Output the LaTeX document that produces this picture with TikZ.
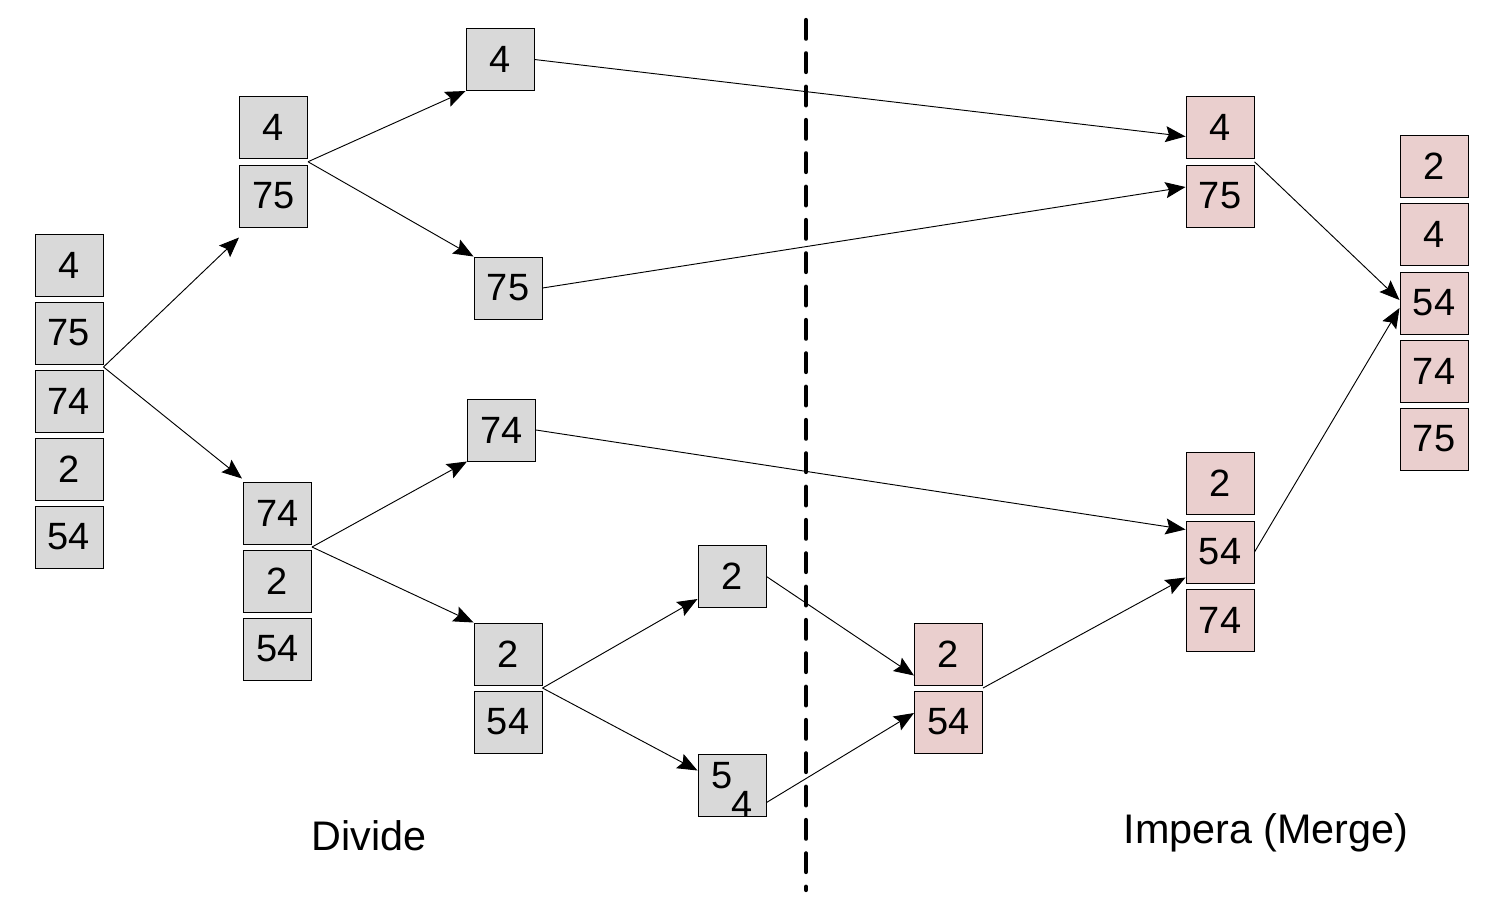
\documentclass[tikz,border=0pt]{standalone}
\usepackage{fontspec}
\setmainfont{Liberation Sans}
\usetikzlibrary{arrows.meta,calc}
\definecolor{boxgray}{RGB}{217,217,217}
\definecolor{boxpink}{RGB}{234,207,206}
\begin{document}
\begin{tikzpicture}[x=0.75pt,y=-0.75pt,
  cell/.style={draw=black, line width=0.75pt, minimum width=51pt, minimum height=46.5pt, inner sep=0pt, font=\fontsize{28.5}{31}\selectfont},
  gcell/.style={cell, fill=boxgray},
  pcell/.style={cell, fill=boxpink},
  arr/.style={line width=0.7pt, -{Stealth[length=15pt,width=12pt,inset=2.5pt]}},
  lbl/.style={font=\fontsize{31}{35}\selectfont},
  divider/.style={line width=3.2pt, line cap=round, dash pattern=on 14pt off 11pt}]
\useasboundingbox (0,0) rectangle (1498,922);
% left column
\node[gcell] (L4)  at (69,265) {4};
\node[gcell] (L75) at (69,333) {75};
\node[gcell] (L74) at (69,401) {74};
\node[gcell] (L2)  at (69,469) {2};
\node[gcell] (L54) at (69,537) {54};
% second column
\node[gcell] (T4)  at (273.5,127.5) {4};
\node[gcell] (T75) at (273.5,196) {75};
\node[gcell] (B74) at (277.5,513) {74};
\node[gcell] (B2)  at (277.5,581) {2};
\node[gcell] (B54) at (277.5,649) {54};
% third column
\node[gcell] (a4)  at (500,59.5) {4};
\node[gcell] (a75) at (508,288) {75};
\node[gcell] (a74) at (501.5,430) {74};
\node[gcell] (a2)  at (508,654) {2};
\node[gcell] (a54) at (508,722) {54};
% fourth column
\node[gcell] (b2)  at (732,576.5) {2};
\node[gcell] (b54) at (732,785.5) {\smash{\raisebox{-2pt}{5}}\kern-1pt\smash{\raisebox{-24pt}{4}}};
% merge side
\node[pcell] (m2)  at (948.5,654) {2};
\node[pcell] (m54) at (948.5,722) {54};
\node[pcell] (n4)  at (1220,127.5) {4};
\node[pcell] (n75) at (1220,196) {75};
\node[pcell] (p2)  at (1220,483.5) {2};
\node[pcell] (p54) at (1220,552) {54};
\node[pcell] (p74) at (1220,620) {74};
\node[pcell] (f2)  at (1434,166.5) {2};
\node[pcell] (f4)  at (1434,234.5) {4};
\node[pcell] (f54) at (1434,303) {54};
\node[pcell] (f74) at (1434,371) {74};
\node[pcell] (f75) at (1434,439) {75};
% labels
\node[lbl] (divide) at (369,836) {Divide};
\node[lbl] (impera) at (1266,833) {Impera (Merge)};
% divider
\coordinate (dtop) at (806,20);
\coordinate (dbot) at (806,890);
\draw[divider] (dtop) -- (dbot);
% junctions
\coordinate (jL) at ($(L75.south east)!0.5!(L74.north east)$);
\coordinate (jT) at ($(T4.south east)!0.5!(T75.north east)$);
\coordinate (jB) at ($(B74.south east)!0.5!(B2.north east)$);
\coordinate (ja) at ($(a2.south east)!0.5!(a54.north east)$);
\coordinate (jm) at ($(m2.south east)!0.5!(m54.north east)$);
\coordinate (jn) at ($(n4.south east)!0.5!(n75.north east)$);
% divide arrows
\draw[arr] (jL) -- ($(T75.south west)+(0,10)$);
\draw[arr] (jL) -- ($(B74.north west)+(-1,-3)$);
\draw[arr] (jT) -- (a4.south west);
\draw[arr] (jT) -- (a75.north west);
\draw[arr] (jB) -- (a74.south west);
\draw[arr] (jB) -- (a2.north west);
\draw[arr] (ja) -- ($(b2.south west)+(0,-9)$);
\draw[arr] (ja) -- ($(b54.west)+(0,-15)$);
% merge arrows
\draw[arr] (a4.east) -- ($(n4.west)+(0,9)$);
\draw[arr] (a75.east) -- ($(n75.west)+(0,-9)$);
\draw[arr] (a74.east) -- ($(p54.north west)+(0,9)$);
\draw[arr] (b2.east) -- ($(m2.south west)+(0,-10)$);
\draw[arr] ($(b54.east)+(0,17)$) -- ($(m54.west)+(0,-9)$);
\draw[arr] (jm) -- ($(p54.south west)+(0,-6)$);
\draw[arr] (jn) -- ($(f54.west)+(0,-3)$);
\draw[arr] (p54.east) -- ($(f54.west)+(0,5)$);
\end{tikzpicture}
\end{document}
